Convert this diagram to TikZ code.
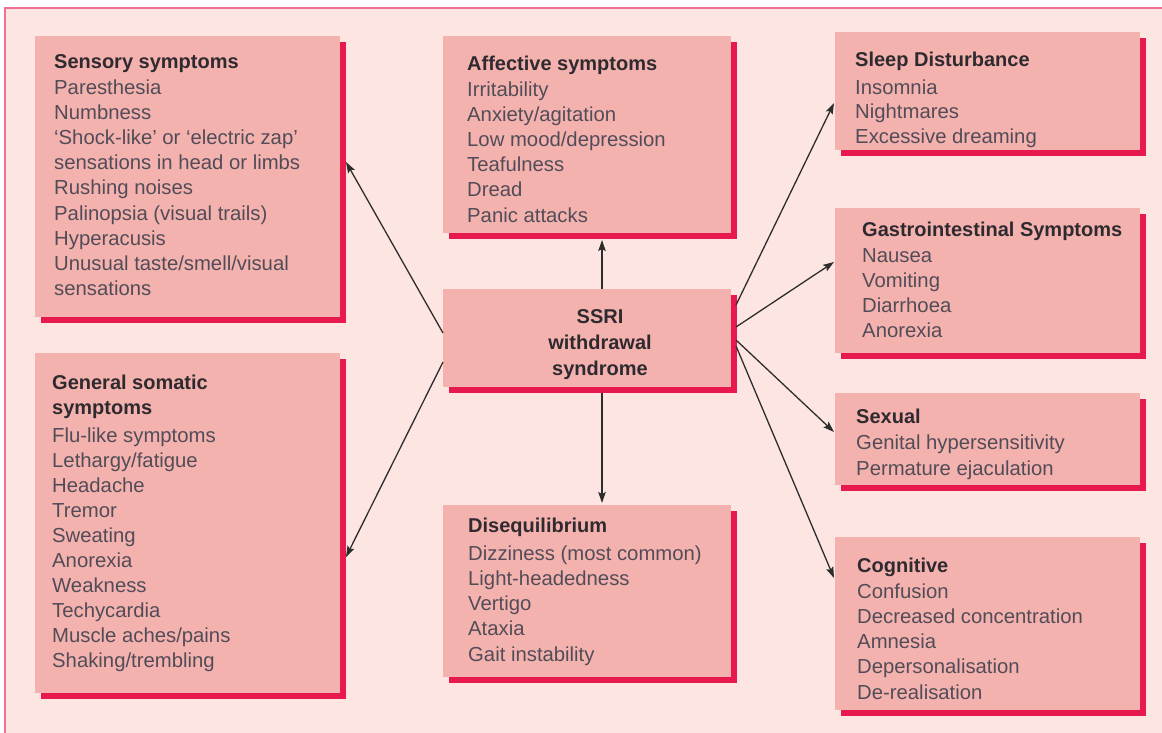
\documentclass[tikz,border=0pt]{standalone}
\usepackage{fontspec}
\setmainfont{Liberation Sans}
\usetikzlibrary{arrows.meta,shadows,calc}
\definecolor{bgc}{RGB}{253,230,226}
\definecolor{boxc}{RGB}{244,178,174}
\definecolor{shc}{RGB}{232,25,79}
\definecolor{borderc}{RGB}{240,112,145}
\definecolor{titlec}{RGB}{46,42,48}
\definecolor{itemc}{RGB}{82,76,88}
\definecolor{arrc}{RGB}{45,45,45}
\newcommand\bodyfont{\fontsize{20.3}{25.2}\selectfont}
\newcommand\headfont{\fontsize{20}{25.2}\selectfont\bfseries}
\newcommand\mylines[2]{\vtop{\baselineskip=#1\relax #2}}
\newcommand\myli[1]{\hbox{#1}}
\begin{document}
\begin{tikzpicture}[x=1pt,y=-1pt,
  sbox/.style={fill=boxc, draw=none, inner sep=0pt, outer sep=0pt, anchor=north west,
    general shadow={fill=shc, shadow xshift=5.5pt, shadow yshift=-5.5pt}},
  ttl/.style={anchor=base west, inner sep=0pt, font=\headfont, text=titlec},
  itms/.style={anchor=base west, inner sep=0pt, font=\bodyfont, text=itemc},
  arr/.style={draw=arrc, line width=1.3pt, -{Stealth[length=11pt,width=7.5pt,inset=2pt]}}]
\useasboundingbox (0,0) rectangle (1162,732);
\fill[white] (0,0) rectangle (1162,732);
\draw[fill=bgc, draw=borderc, line width=1.5pt] (5,8) rectangle (1180,750);

% Sensory
\node[sbox, minimum width=305pt, minimum height=281pt] (sens) at (35,36) {};
\node[ttl] (sensT) at (54,68) {Sensory symptoms};
\node[itms] (sensL) at (54,94) {\mylines{25.2pt}{%
  \myli{Paresthesia}\myli{Numbness}%
  \myli{‘Shock-like’ or ‘electric zap’}\myli{sensations in head or limbs}%
  \myli{Rushing noises}\myli{Palinopsia (visual trails)}\myli{Hyperacusis}%
  \myli{Unusual taste/smell/visual}\myli{sensations}}};

% General somatic
\node[sbox, minimum width=305pt, minimum height=340pt] (gen) at (35,353) {};
\node[ttl] (genT) at (52,389) {\mylines{25pt}{\myli{General somatic}\myli{symptoms}}};
\node[itms] (genL) at (52,442) {\mylines{25pt}{%
  \myli{Flu-like symptoms}\myli{Lethargy/fatigue}\myli{Headache}\myli{Tremor}%
  \myli{Sweating}\myli{Anorexia}\myli{Weakness}\myli{Techycardia}%
  \myli{Muscle aches/pains}\myli{Shaking/trembling}}};

% Affective
\node[sbox, minimum width=288pt, minimum height=197pt] (aff) at (443,36) {};
\node[ttl] (affT) at (467,70) {Affective symptoms};
\node[itms] (affL) at (467,96) {\mylines{25.2pt}{%
  \myli{Irritability}\myli{Anxiety/agitation}\myli{Low mood/depression}%
  \myli{Teafulness}\myli{Dread}\myli{Panic attacks}}};

% SSRI centre
\node[sbox, minimum width=288pt, minimum height=98pt] (ssri) at (443,289) {};
\node[anchor=base, inner sep=0pt, font=\headfont, text=titlec] (ssriT) at (600,323)
  {\vtop{\baselineskip=26pt\halign{\hfil#\hfil\cr SSRI\cr withdrawal\cr syndrome\cr}}};

% Disequilibrium
\node[sbox, minimum width=288pt, minimum height=172pt] (dis) at (443,505) {};
\node[ttl] (disT) at (468,532) {Disequilibrium};
\node[itms] (disL) at (468,560) {\mylines{25.25pt}{%
  \myli{Dizziness (most common)}\myli{Light-headedness}\myli{Vertigo}%
  \myli{Ataxia}\myli{Gait instability}}};

% Sleep
\node[sbox, minimum width=305pt, minimum height=118pt] (slp) at (835,32) {};
\node[ttl] (slpT) at (855,66) {Sleep Disturbance};
\node[itms] (slpL) at (855,94) {\mylines{24.5pt}{%
  \myli{Insomnia}\myli{Nightmares}\myli{Excessive dreaming}}};

% Gastrointestinal
\node[sbox, minimum width=305pt, minimum height=145pt] (gi) at (835,208) {};
\node[ttl] (giT) at (862,236) {Gastrointestinal Symptoms};
\node[itms] (giL) at (862,262) {\mylines{25.3pt}{%
  \myli{Nausea}\myli{Vomiting}\myli{Diarrhoea}\myli{Anorexia}}};

% Sexual
\node[sbox, minimum width=305pt, minimum height=92pt] (sex) at (835,393) {};
\node[ttl] (sexT) at (856,423) {Sexual};
\node[itms] (sexL) at (856,449) {\mylines{26pt}{%
  \myli{Genital hypersensitivity}\myli{Permature ejaculation}}};

% Cognitive
\node[sbox, minimum width=305pt, minimum height=173pt] (cog) at (835,537) {};
\node[ttl] (cogT) at (857,572) {Cognitive};
\node[itms] (cogL) at (857,598) {\mylines{25.25pt}{%
  \myli{Confusion}\myli{Decreased concentration}\myli{Amnesia}%
  \myli{Depersonalisation}\myli{De-realisation}}};

% Arrows
\draw[arr] ([yshift=5pt]ssri.west) -- ([xshift=6pt,yshift=14.5pt]sens.east);
\draw[arr] ([yshift=-24pt]ssri.west) -- ([xshift=6pt,yshift=-34pt]gen.east);
\draw[arr] ([xshift=15pt]ssri.north) -- ([xshift=15pt,yshift=-7pt]aff.south);
\draw[arr] ([xshift=15pt,yshift=-5.5pt]ssri.south) -- ([xshift=15pt,yshift=2pt]dis.north);
\draw[arr] ([xshift=5pt,yshift=33pt]ssri.east) -- ([xshift=-1pt,yshift=-12pt]slp.west);
\draw[arr] ([xshift=5pt,yshift=11pt]ssri.east) -- ([xshift=-1pt,yshift=18.5pt]gi.west);
\draw[arr] ([xshift=5pt,yshift=-2pt]ssri.east) -- ([xshift=-1pt,yshift=7pt]sex.west);
\draw[arr] ([xshift=5pt,yshift=-8pt]ssri.east) -- ([xshift=-1pt,yshift=45.5pt]cog.west);
\end{tikzpicture}
\end{document}
